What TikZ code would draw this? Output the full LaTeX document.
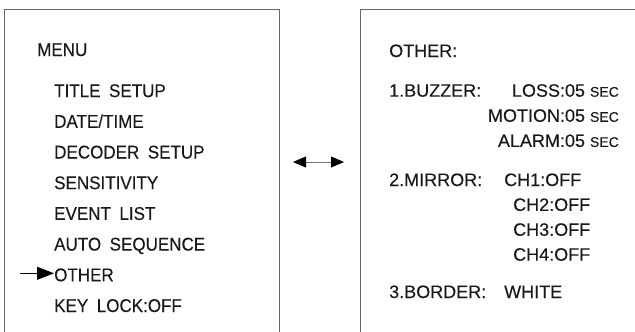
\documentclass[tikz,border=0pt]{standalone}
\usepackage{fontspec}
\setmainfont[FakeBold=0.2]{Liberation Sans}
\newfontfamily\menufont[WordSpace=1.8,FakeStretch=0.92,FakeBold=0.2]{Liberation Sans}
\newcommand\secsize{\fontsize{14}{14}\selectfont}
\usetikzlibrary{positioning,arrows.meta}

\begin{document}
\begin{tikzpicture}[x=1pt,y=-1pt,
  frame/.style={draw=black!60,line width=1pt},
  menuitem/.style={inner sep=0pt,anchor=base west,text=black!90,
    font=\menufont\fontsize{18.5}{18.5}\selectfont,text height=13pt,text depth=4pt},
  osditem/.style={inner sep=0pt,anchor=base west,text=black!90,
    font=\fontsize{18}{18}\selectfont,text height=13pt,text depth=4pt},
  pointer/.style={line width=0.8pt,-{Triangle[length=17pt,width=13pt]}},
  swap/.style={draw=black!55,line width=0.8pt,
    {Triangle[length=13pt,width=11pt,color=black]}-{Triangle[length=13pt,width=11pt,color=black]}}]
\useasboundingbox (0,0) rectangle (635,332);
% the two screens, open at the bottom
\draw[frame] (4,332) -- (4,9) -- (279,9) -- (279,332);
\draw[frame] (635,9) -- (360,9) -- (360,332);
% main menu
\node[menuitem] (menu)  at (37,56) {MENU};
\node[menuitem] (title) [below right=23.7pt and 17pt of menu.south west] {TITLE SETUP};
\node[menuitem] (date)  [below right=13.3pt and 0pt of title.south west] {DATE/TIME};
\node[menuitem] (decoder) [below right=13.3pt and 0pt of date.south west] {DECODER SETUP};
\node[menuitem] (sens)  [below right=13.3pt and 0pt of decoder.south west] {SENSITIVITY};
\node[menuitem] (event) [below right=13.3pt and 0pt of sens.south west] {EVENT LIST};
\node[menuitem] (auto)  [below right=13.3pt and 0pt of event.south west] {AUTO SEQUENCE};
\node[menuitem] (other) [below right=13.3pt and 0pt of auto.south west] {OTHER};
\node[menuitem] (keylock) [below right=13.3pt and 0pt of other.south west] {KEY LOCK:OFF};
\coordinate (ptr) at ([xshift=-34pt,yshift=3.5pt]other.west);
\draw[pointer] (ptr) -- (ptr -| other.west);
% between the screens
\coordinate (swapL) at (293,162);
\coordinate (swapR) at (344,162);
\draw[swap] (swapL) -- (swapR);
% OTHER sub menu
\coordinate (secedge) at (619,0);
\coordinate (valcol) at (504,0);
\node[osditem] (otherhead) at (389,57) {OTHER:};
\node[osditem] (buzzer) [below right=22.3pt and 0pt of otherhead.south west] {1.BUZZER:};
\node[osditem,anchor=base east] (loss) at (buzzer.base -| secedge) {LOSS:05 {\secsize SEC}};
\node[osditem] (motion) [below left=7.7pt and 0pt of loss.south east] {MOTION:05 {\secsize SEC}};
\node[osditem] (alarm)  [below left=7.7pt and 0pt of motion.south east] {ALARM:05 {\secsize SEC}};
\node[osditem] (mirror) at (389,186) {2.MIRROR:};
\node[osditem] (ch1) at (mirror.base -| valcol) {CH1:OFF};
\node[osditem] (ch2) [below right=7.5pt and 9pt of ch1.south west] {CH2:OFF};
\node[osditem] (ch3) [below right=7.5pt and 0pt of ch2.south west] {CH3:OFF};
\node[osditem] (ch4) [below right=7.5pt and 0pt of ch3.south west] {CH4:OFF};
\node[osditem] (border) at (389,298) {3.BORDER:};
\node[osditem] (white) at (border.base -| valcol) {WHITE};
\end{tikzpicture}
\end{document}
